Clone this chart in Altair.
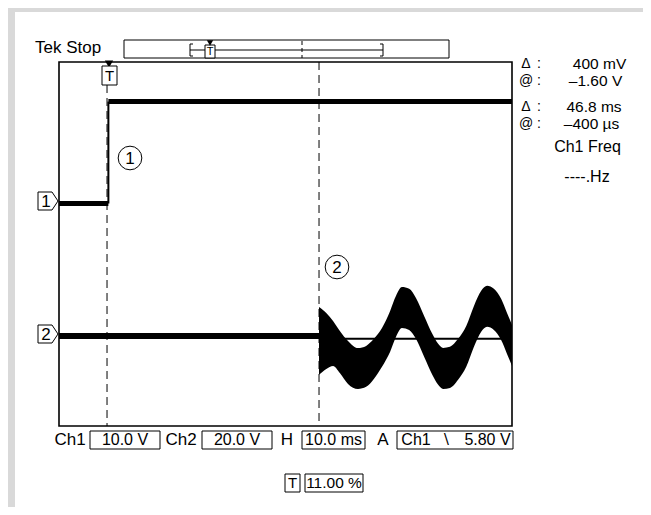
import altair as alt
import pandas as pd

# ---------------- scope settings ----------------
T_RANGE = [-11.0, 89.0]      # ms across 10 divisions (H 10.0 ms, trigger at 11 %)
DIV_RANGE = [0.0, 8.0]       # vertical divisions
CH1_VDIV, CH1_GND = 10.0, 4.89
CH2_VDIV, CH2_GND = 20.0, 1.98

# ---------------- traces ----------------
ch1_low_t = [-11.0, -0.1]
ch1_low_v = [0.0, 0.0]
ch1_high_t = [-0.1, 89.0]
ch1_high_v = [22.4, 22.4]
ch1_step_t = [-0.1]
ch1_step_v0 = [0.0]
ch1_step_v1 = [22.4]

ch2_flat_t = [-11.0, 46.4]
ch2_flat_v = [0.0, 0.0]

osc_t = [46.4, 48.0, 49.5, 51.0, 52.8, 55.0, 56.8, 58.5, 60.3, 62.1, 63.4, 64.7, 66.3, 67.8,
         69.6, 71.4, 72.7, 73.8, 75.3, 77.1, 78.9, 80.6, 82.2, 83.5, 85.0, 86.6, 87.9, 89.0]
osc_upper = [12.7, 10.1, 6.6, 2.2, -2.2, -5.3, -4.4, -1.3, 3.5, 11.0, 17.6, 21.5, 20.7, 16.7,
             8.8, 0.9, -3.5, -5.3, -4.8, -1.3, 4.4, 13.2, 19.8, 22.0, 20.7, 16.3, 10.1, 4.8]
osc_lower = [-17.1, -14.5, -13.2, -16.3, -21.1, -23.3, -22.4, -18.9, -13.6, -7.0, -0.4, 3.5, 2.6, -1.3,
             -9.2, -17.1, -21.5, -23.3, -22.9, -19.3, -13.6, -4.8, 1.8, 4.0, 2.6, -1.8, -7.9, -13.2]

ch2_ref_t = [46.4, 87.5]
ch2_ref_v = [-1.3, -1.3]

cursor_t = [-0.4, 46.4]

# ---------------- layout ----------------
X0, Y0 = 59, 62          # page position of the graticule's top-left corner
W, H = 453, 364
FONT = "Liberation Sans, Arial, sans-serif"
ONE = alt.Data(values=[{"k": 1}])


def P(x):
    return alt.value(x - X0)


def Q(y):
    return alt.value(y - Y0)


def d1(v):
    return CH1_GND + v / CH1_VDIV


def d2(v):
    return CH2_GND + v / CH2_VDIV


XS = alt.Scale(domain=T_RANGE, nice=False, zero=False)
YS = alt.Scale(domain=DIV_RANGE, nice=False, zero=False)


def X(f="t"):
    return alt.X(f"{f}:Q", scale=XS, axis=None)


def Y(f="d"):
    return alt.Y(f"{f}:Q", scale=YS, axis=None)


def txt(s, x, y, align="left", size=16):
    return alt.Chart(ONE).mark_text(text=s, align=align, baseline="middle", font=FONT,
                                    fontSize=size, color="black").encode(x=P(x), y=Q(y))


def box(x1, y1, x2, y2, sw=1.0, fill="transparent"):
    return alt.Chart(ONE).mark_rect(fill=fill, stroke="black", strokeWidth=sw).encode(
        x=P(x1), x2=P(x2), y=Q(y1), y2=Q(y2))


def hline(x1, x2, y, sw=1.0, dash=None):
    kw = dict(color="black", strokeWidth=sw)
    if dash:
        kw["strokeDash"] = dash
    return alt.Chart(ONE).mark_rule(**kw).encode(x=P(x1), x2=P(x2), y=Q(y))


def vline(x, y1, y2, sw=1.0, dash=None):
    kw = dict(color="black", strokeWidth=sw)
    if dash:
        kw["strokeDash"] = dash
    return alt.Chart(ONE).mark_rule(**kw).encode(x=P(x), y=Q(y1), y2=Q(y2))


layers = []
# white panel on the grey frame
layers.append(alt.Chart(ONE).mark_rect(fill="white").encode(x=P(15), x2=P(645), y=Q(12), y2=Q(515)))

# cursors (dashed)
layers.append(alt.Chart(pd.DataFrame({"t": [cursor_t[0]]})).mark_rule(
    color="black", strokeWidth=1, strokeDash=[8, 5]).encode(x=X(), y=Q(85), y2=Q(426)))
layers.append(alt.Chart(pd.DataFrame({"t": [cursor_t[1]]})).mark_rule(
    color="black", strokeWidth=1, strokeDash=[8, 5]).encode(x=X(), y=Q(62), y2=Q(426)))

# channel 2
layers.append(alt.Chart(pd.DataFrame({"t": ch2_ref_t, "d": [d2(v) for v in ch2_ref_v]})).mark_line(
    color="black", strokeWidth=2).encode(x=X(), y=Y()))
layers.append(alt.Chart(pd.DataFrame({"t": osc_t, "d": [d2(v) for v in osc_upper],
                                      "d2": [d2(v) for v in osc_lower]})).mark_area(
    color="black", interpolate="monotone").encode(x=X(), y=Y(), y2="d2:Q"))
layers.append(alt.Chart(pd.DataFrame({"t": ch2_flat_t, "d": [d2(v) for v in ch2_flat_v]})).mark_line(
    color="black", strokeWidth=6).encode(x=X(), y=Y()))

# channel 1
layers.append(alt.Chart(pd.DataFrame({"t": ch1_low_t, "d": [d1(v) for v in ch1_low_v]})).mark_line(
    color="black", strokeWidth=5).encode(x=X(), y=Y()))
layers.append(alt.Chart(pd.DataFrame({"t": ch1_high_t, "d": [d1(v) for v in ch1_high_v]})).mark_line(
    color="black", strokeWidth=5).encode(x=X(), y=Y()))
layers.append(alt.Chart(pd.DataFrame({"t": ch1_step_t, "d": [d1(v) for v in ch1_step_v0],
                                      "d2": [d1(v) for v in ch1_step_v1]})).mark_rule(
    color="black", strokeWidth=2).encode(x=X(), y=Y(), y2="d2:Q"))

# graticule border
layers.append(box(X0, Y0, X0 + W, Y0 + H, sw=1.6))

# channel markers
MARK = "M-1,-0.9L0.4,-0.9L1,0L0.4,0.9L-1,0.9Z"
for lab, yy in (("1", 201), ("2", 334)):
    layers.append(alt.Chart(ONE).mark_point(shape=MARK, size=400, filled=True, fill="white",
                                            stroke="black", strokeWidth=1, opacity=1).encode(
        x=P(48), y=Q(yy)))
    layers.append(txt(lab, 46, yy + 1, align="center", size=17))

# trigger marker at top of the graticule
layers.append(alt.Chart(ONE).mark_point(shape="triangle-down", size=70, filled=True,
                                        color="black", opacity=1).encode(x=P(109), y=Q(64)))
layers.append(box(102, 66, 117, 85, fill="white"))
layers.append(txt("T", 109.5, 76, align="center", size=15))

# circled annotations
for lab, cx, cy in (("1", 130, 158), ("2", 337, 267)):
    layers.append(alt.Chart(ONE).mark_point(shape="circle", size=560, filled=False,
                                            color="black", strokeWidth=1, opacity=1).encode(
        x=P(cx), y=Q(cy)))
    layers.append(txt(lab, cx, cy + 1, align="center", size=17))

# Tek Stop record bar
layers.append(txt("Tek Stop", 35, 48, size=17))
layers.append(box(124, 40, 449, 58))
layers.append(hline(190, 383, 50))
layers.append(vline(190, 44, 56))
layers.append(vline(383, 44, 56))
layers.append(hline(190, 193, 44))
layers.append(hline(190, 193, 56))
layers.append(hline(380, 383, 44))
layers.append(hline(380, 383, 56))
layers.append(vline(302, 41, 58, dash=[4, 3]))
layers.append(box(205, 45, 215, 58, fill="white"))
layers.append(txt("T", 210, 52, align="center", size=11))
layers.append(alt.Chart(ONE).mark_point(shape="triangle-down", size=40, filled=True,
                                        color="black", opacity=1).encode(x=P(210), y=Q(43)))

# right-hand read-outs (symbol, colon, value, row y, value centre x)
read = [("Δ", ":", "400 mV", 64, 599.5), ("@", ":", "–1.60 V", 81, 595.5),
        ("Δ", ":", "46.8 ms", 107, 594), ("@", ":", "–400 µs", 124, 591.5)]
for sym, col, val, yy, vx in read:
    layers.append(txt(sym, 526, yy, align="center", size=14))
    layers.append(txt(col, 539, yy, align="center", size=14))
    layers.append(txt(val, vx, yy, align="center", size=15.5))
layers.append(txt("Ch1 Freq", 587.5, 147, align="center", size=16))
layers.append(txt("----.Hz", 587, 177, align="center", size=16))

# bottom status line
BY = 440
layers.append(txt("Ch1", 70, BY, align="center", size=17))
layers.append(box(90, 431, 160, 449))
layers.append(txt("10.0 V", 125, BY, align="center", size=16))
layers.append(txt("Ch2", 181, BY, align="center", size=17))
layers.append(box(202, 431, 272, 449))
layers.append(txt("20.0 V", 237, BY, align="center", size=16))
layers.append(txt("H", 287, BY, align="center", size=17))
layers.append(box(302, 431, 365, 449))
layers.append(txt("10.0 ms", 333.5, BY, align="center", size=16))
layers.append(txt("A", 383, BY, align="center", size=17))
layers.append(box(397, 431, 513, 449))
layers.append(txt("Ch1", 416, BY, align="center", size=16))
layers.append(txt("∖", 446, BY, align="center", size=15))
layers.append(txt("5.80 V", 487.5, BY, align="center", size=16))

# trigger position line
layers.append(box(285, 474, 300, 492))
layers.append(txt("T", 292.5, 483, align="center", size=15))
layers.append(box(305, 474, 363, 492))
layers.append(txt("11.00 %", 334, 483, align="center", size=15.5))

chart = alt.layer(*layers).properties(
    width=W, height=H,
    background="#d9d9d9",
    padding={"left": X0 - 8, "top": Y0 - 8, "right": 651 - 8 - X0 - W, "bottom": 515 - 8 - Y0 - H},
    autosize=alt.AutoSizeParams(type="none"),
).configure_view(stroke=None, fill=None)

chart.save("out.html", embed_options={"renderer": "svg", "actions": False})
